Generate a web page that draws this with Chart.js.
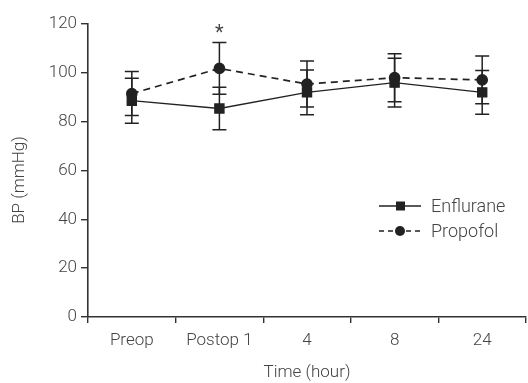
<!DOCTYPE html>
<html>
<head>
<meta charset="utf-8">
<script src="https://cdn.jsdelivr.net/npm/chart.js@4/dist/chart.umd.min.js"></script>
<style>
  html, body { margin: 0; padding: 0; background: #fff; overflow: hidden; }
  #wrap { width: 528px; height: 383px; }
  canvas { display: block; }
</style>
</head>
<body>
<div id="wrap"><canvas id="bp-chart" width="528" height="383"></canvas></div>
<script>
const timeLabels = ["Preop", "Postop 1", "4", "8", "24"];
const enflurane = [88.6, 85.4, 92, 96, 92];
const enfluraneSd = [9.2, 8.7, 9.2, 10, 9];
const propofol = [91.5, 101.8, 95.4, 98, 97.1];
const propofolSd = [9, 10.6, 9.4, 9.8, 9.8];
const yTicks = [0, 20, 40, 60, 80, 100, 120];
const starAt = [1]; // significant difference marks

const ink = "#222";
const textColor = "#444";
const fontFamily = "Roboto, 'Liberation Sans', sans-serif";

// error bars with caps, drawn from the data through the scales
const errorBars = {
  id: "errorBars",
  afterDatasetsDraw(chart) {
    const ctx = chart.ctx;
    const y = chart.scales.y;
    const sds = [enfluraneSd, propofolSd];
    ctx.save();
    ctx.strokeStyle = ink;
    ctx.lineWidth = 1.5;
    chart.data.datasets.forEach((ds, i) => {
      const meta = chart.getDatasetMeta(i);
      meta.data.forEach((pt, j) => {
        const top = y.getPixelForValue(ds.data[j] + sds[i][j]);
        const bot = y.getPixelForValue(ds.data[j] - sds[i][j]);
        ctx.beginPath();
        ctx.moveTo(pt.x, top);
        ctx.lineTo(pt.x, bot);
        ctx.moveTo(pt.x - 7, top);
        ctx.lineTo(pt.x + 7, top);
        ctx.moveTo(pt.x - 7, bot);
        ctx.lineTo(pt.x + 7, bot);
        ctx.stroke();
      });
    });
    // asterisks
    ctx.fillStyle = textColor;
    ctx.font = "20px " + fontFamily;
    ctx.textAlign = "center";
    ctx.textBaseline = "middle";
    const meta = chart.getDatasetMeta(1);
    starAt.forEach((j) => {
      const py = y.getPixelForValue(propofol[j] + propofolSd[j] + 3.5);
      ctx.fillText("*", meta.data[j].x, py);
    });
    ctx.restore();
  },
};

// legend inside the plot, lower right, plus the y title
const insideLegend = {
  id: "insideLegend",
  afterDraw(chart) {
    const ctx = chart.ctx;
    const rows = [
      { label: "Enflurane", dash: [], shape: "rect", y: 206 },
      { label: "Propofol", dash: [5, 4], shape: "circle", y: 231 },
    ];
    ctx.save();
    rows.forEach((row) => {
      ctx.strokeStyle = ink;
      ctx.lineWidth = 1.5;
      ctx.setLineDash(row.dash);
      ctx.beginPath();
      ctx.moveTo(379, row.y);
      ctx.lineTo(421, row.y);
      ctx.stroke();
      ctx.setLineDash([]);
      ctx.fillStyle = ink;
      if (row.shape === "rect") {
        ctx.fillRect(396, row.y - 4.5, 9, 9);
      } else {
        ctx.beginPath();
        ctx.arc(400, row.y, 5, 0, Math.PI * 2);
        ctx.fill();
      }
      ctx.fillStyle = textColor;
      ctx.font = "300 18px " + fontFamily;
      ctx.textAlign = "left";
      ctx.textBaseline = "middle";
      ctx.fillText(row.label, 431, row.y + 1);
    });

    ctx.translate(20, 180);
    ctx.rotate(-Math.PI / 2);
    ctx.fillStyle = textColor;
    ctx.font = "300 17px " + fontFamily;
    ctx.textAlign = "center";
    ctx.textBaseline = "middle";
    ctx.fillText("BP (mmHg)", 0, 0);
    ctx.restore();
  },
};

new Chart(document.getElementById("bp-chart"), {
  type: "line",
  data: {
    labels: timeLabels,
    datasets: [
      {
        label: "Enflurane",
        data: enflurane,
        borderColor: ink,
        backgroundColor: ink,
        borderWidth: 1.4,
        pointStyle: "rect",
        pointRadius: 6.4,
        pointHoverRadius: 6.4,
      },
      {
        label: "Propofol",
        data: propofol,
        borderColor: ink,
        backgroundColor: ink,
        borderWidth: 1.7,
        borderDash: [7, 5],
        pointStyle: "circle",
        pointRadius: 5,
        pointHoverRadius: 5,
      },
    ],
  },
  options: {
    responsive: false,
    animation: false,
    layout: {
      autoPadding: false,
      padding: { top: 24, right: 2, left: 0, bottom: 0 },
    },
    plugins: {
      legend: { display: false },
      tooltip: { enabled: false },
    },
    scales: {
      x: {
        offset: true,
        grid: {
          offset: true,
          drawOnChartArea: false,
          drawTicks: true,
          tickLength: 6,
          color: "#333",
          lineWidth: 1.4,
        },
        border: { display: true, color: "#333", width: 1.6 },
        ticks: {
          color: textColor,
          font: { family: fontFamily, size: 17, weight: "300" },
          padding: 8,
          maxRotation: 0,
        },
        title: {
          display: true,
          text: "Time (hour)",
          color: textColor,
          font: { family: fontFamily, size: 17, weight: "300" },
          padding: { top: 2, bottom: 0 },
        },
        afterFit(scale) {
          scale.height = 66;
          scale.paddingLeft = 0;
          scale.paddingRight = 0;
        },
      },
      y: {
        min: 0,
        max: 120,
        afterBuildTicks(scale) {
          scale.ticks = yTicks.map((v) => ({ value: v }));
        },
        grid: {
          drawOnChartArea: false,
          drawTicks: true,
          tickLength: 7,
          color: "#333",
          lineWidth: 1.4,
        },
        border: { display: true, color: "#333", width: 1.6 },
        ticks: {
          color: textColor,
          font: { family: fontFamily, size: 17, weight: "300" },
          padding: 4,
        },
        afterFit(scale) {
          scale.width = 88;
        },
      },
    },
  },
  plugins: [errorBars, insideLegend],
});
</script>
</body>
</html>
